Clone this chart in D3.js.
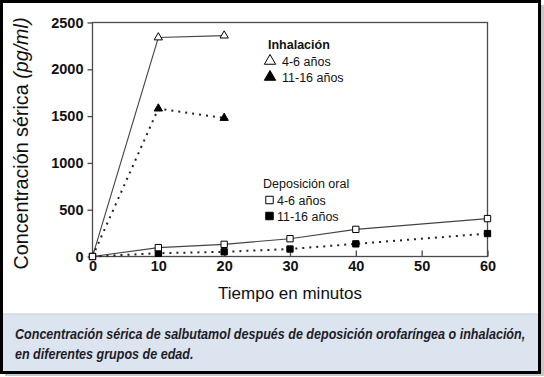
<!DOCTYPE html>
<html>
<head>
<meta charset="utf-8">
<script src="https://cdn.jsdelivr.net/npm/d3@7"></script>
<style>
  body { margin: 0; background: #fff; }
  svg text { font-family: "Liberation Sans", Arial, sans-serif; }
</style>
</head>
<body>
<div id="chart"></div>
<script>
// --- data ---
const minutesInhal = [0, 10, 20];
const inhal46 = [0, 2340, 2360];
const inhal1116 = [0, 1580, 1480];

const minutesOral = [0, 10, 20, 30, 40, 60];
const oral46 = [0, 95, 130, 190, 290, 405];
const oral1116 = [0, 35, 50, 80, 135, 245];

const xTicks = [0, 10, 20, 30, 40, 50, 60];
const yTicks = [0, 500, 1000, 1500, 2000, 2500];

const captionLines = [
    "Concentración sérica de salbutamol después de deposición orofaríngea o inhalación,",
    "en diferentes grupos de edad."
];

const W = 544, H = 377;
const plot = {left: 92.5, right: 487.5, top: 22.5, bottom: 256.5};

const svg = d3.select("#chart").append("svg")
    .attr("width", W)
    .attr("height", H);

// drop shadow + outer frame
svg.append("rect")
    .attr("x", 5).attr("y", 5).attr("width", 539).attr("height", 371)
    .attr("fill", "#c8c8c8");
svg.append("rect")
    .attr("x", 1.5).attr("y", 1.5).attr("width", 538).attr("height", 371)
    .attr("fill", "#fff").attr("stroke", "#000").attr("stroke-width", 3);

// caption box
svg.append("rect")
    .attr("x", 3).attr("y", 314).attr("width", 535).attr("height", 57)
    .attr("fill", "#dce4ef");
svg.append("line")
    .attr("x1", 3).attr("x2", 538).attr("y1", 314).attr("y2", 314)
    .attr("stroke", "#c4ccd8");

// caption text, squeezed horizontally like the condensed face in the picture
const capScale = 0.8;
const capG = svg.append("g")
    .attr("transform", `translate(15,0) scale(${capScale},1)`);
capG.selectAll(".caption")
    .data(captionLines)
    .enter()
    .append("text")
    .attr("class", "caption")
    .attr("x", 0)
    .attr("y", (d, i) => 339 + i * 20)
    .attr("font-size", 14)
    .attr("font-weight", "bold")
    .attr("font-style", "italic")
    .attr("fill", "#1c1c28")
    .text(d => d);

// scales
const x = d3.scaleLinear().domain([0, 60]).range([plot.left, plot.right]);
const y = d3.scaleLinear().domain([0, 2500]).range([plot.bottom, plot.top]);

// plot frame
svg.append("rect")
    .attr("x", plot.left).attr("y", plot.top)
    .attr("width", plot.right - plot.left).attr("height", plot.bottom - plot.top)
    .attr("fill", "none").attr("stroke", "#4a4a4a").attr("stroke-width", 1.3);

// y axis (outward ticks)
const yAxis = svg.append("g")
    .attr("transform", `translate(${plot.left},0)`)
    .call(d3.axisLeft(y).tickValues(yTicks).tickSize(5).tickPadding(4).tickFormat(d3.format("d")));
yAxis.select(".domain").remove();
yAxis.selectAll("line").attr("stroke", "#4a4a4a").attr("stroke-width", 1.3);
yAxis.selectAll("text")
    .attr("font-size", 14.5).attr("font-weight", "bold").attr("fill", "#111")
    .attr("font-family", "'Liberation Sans', Arial, sans-serif");

// x axis (inward ticks)
const xAxis = svg.append("g")
    .attr("transform", `translate(0,${plot.bottom})`)
    .call(d3.axisBottom(x).tickValues(xTicks).tickSize(-6).tickPadding(4));
xAxis.select(".domain").remove();
xAxis.selectAll("line").attr("stroke", "#4a4a4a").attr("stroke-width", 1.3);
xAxis.selectAll("text")
    .attr("y", 4)
    .attr("font-size", 14.5).attr("font-weight", "bold").attr("fill", "#111")
    .attr("font-family", "'Liberation Sans', Arial, sans-serif");

// axis titles
svg.append("text")
    .attr("x", 290).attr("y", 299)
    .attr("text-anchor", "middle")
    .attr("font-size", 17)
    .attr("fill", "#111")
    .text("Tiempo en minutos");

const yTitle = svg.append("text")
    .attr("transform", `translate(28,${(plot.top + plot.bottom) / 2 + 4}) rotate(-90)`)
    .attr("text-anchor", "middle")
    .attr("font-size", 20)
    .attr("fill", "#111")
    .attr("textLength", 252)
    .attr("lengthAdjust", "spacingAndGlyphs");
yTitle.append("tspan").text("Concentración sérica ");
yTitle.append("tspan").attr("font-style", "italic").text("(pg/ml)");

// series
const series = [
    {t: minutesInhal, v: inhal46, dotted: false, marker: "tri", fill: "#fff"},
    {t: minutesInhal, v: inhal1116, dotted: true, marker: "tri", fill: "#000"},
    {t: minutesOral, v: oral46, dotted: false, marker: "sq", fill: "#fff"},
    {t: minutesOral, v: oral1116, dotted: true, marker: "sq", fill: "#000"}
];

const line = d3.line().x(d => x(d[0])).y(d => y(d[1]));

series.forEach(s => {
    const pts = s.t.map((t, i) => [t, s.v[i]]);
    svg.append("path")
        .datum(pts)
        .attr("d", line)
        .attr("fill", "none")
        .attr("stroke", s.dotted ? "#222" : "#444")
        .attr("stroke-width", s.dotted ? 2 : 1.1)
        .attr("stroke-dasharray", s.dotted ? "2,5" : null);
});

const triSym = d3.symbol().type(d3.symbolTriangle).size(30);
const sqSym = d3.symbol().type(d3.symbolSquare).size(40);

// markers drawn after lines; filled ones first so open ones stay on top at t=0
series.slice().reverse().forEach(s => {
    svg.selectAll(null)
        .data(s.t.map((t, i) => [t, s.v[i]]).filter(d => d[0] > 0 || s.marker === "sq"))
        .enter()
        .append("path")
        .attr("d", s.marker === "tri" ? triSym : sqSym)
        .attr("transform", d => `translate(${x(d[0])},${y(d[1])})`)
        .attr("fill", s.fill)
        .attr("stroke", "#000")
        .attr("stroke-width", 1);
});

// legends
const legends = [
    {title: "Inhalación", bold: true, tx: 268, ty: 49, items: [
        {label: "4-6 años", marker: "tri", fill: "#fff"},
        {label: "11-16 años", marker: "tri", fill: "#000"}
    ]},
    {title: "Deposición oral", bold: false, tx: 263, ty: 188, items: [
        {label: "4-6 años", marker: "sq", fill: "#fff"},
        {label: "11-16 años", marker: "sq", fill: "#000"}
    ]}
];

legends.forEach(lg => {
    svg.append("text")
        .attr("x", lg.tx).attr("y", lg.ty)
        .attr("font-size", 12.5)
        .attr("font-weight", lg.bold ? "bold" : "normal")
        .attr("fill", "#111")
        .text(lg.title);
    lg.items.forEach((it, i) => {
        const cy = lg.ty + 12 + i * 16;
        const mx = it.marker === "tri" ? 270 : 269.5;
        svg.append("path")
            .attr("d", it.marker === "tri"
                ? d3.symbol().type(d3.symbolTriangle).size(55)
                : d3.symbol().type(d3.symbolSquare).size(56))
            .attr("transform", `translate(${mx},${cy})`)
            .attr("fill", it.fill)
            .attr("stroke", "#000")
            .attr("stroke-width", 1);
        svg.append("text")
            .attr("x", it.marker === "tri" ? 282 : 277)
            .attr("y", cy + 4.5)
            .attr("font-size", 12.5)
            .attr("fill", "#111")
            .text(it.label);
    });
});

// fit the first caption line to the box width as in the picture
const natural = capG.select("text").node().getComputedTextLength();
capG.attr("transform", `translate(15,0) scale(${510 / natural},1)`);
</script>
</body>
</html>
